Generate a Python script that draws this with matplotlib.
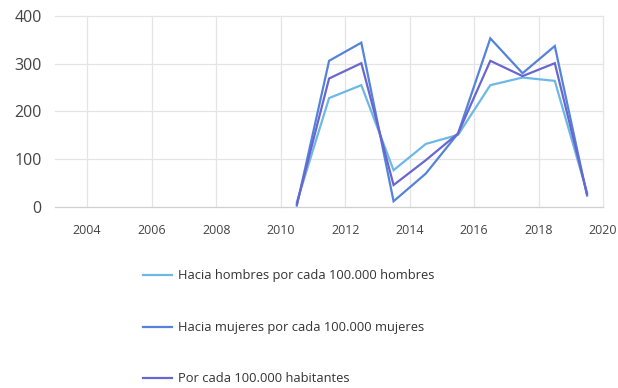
import matplotlib
matplotlib.use("Agg")
import matplotlib.pyplot as plt
from matplotlib.lines import Line2D

plt.rcParams['font.family'] = ['Open Sans', 'DejaVu Sans']

years = [2010, 2011, 2012, 2013, 2014, 2015, 2016, 2017, 2018, 2019]
hombres = [10, 228, 255, 77, 132, 151, 255, 271, 264, 30]
mujeres = [3, 306, 344, 12, 70, 154, 353, 280, 337, 24]
habitantes = [6, 269, 301, 46, 98, 154, 306, 274, 301, 27]
labels = ["Hacia hombres por cada 100.000 hombres",
          "Hacia mujeres por cada 100.000 mujeres",
          "Por cada 100.000 habitantes"]
colors = ["#6cb8e6", "#5483dc", "#6a66cf"]
xticks = [2004, 2006, 2008, 2010, 2012, 2014, 2016, 2018, 2020]
yticks = [0, 100, 200, 300, 400]

fig = plt.figure(figsize=(6.18, 3.88), dpi=100)
ax = fig.add_axes([0.089, 0.4665, 0.887, 0.4925])
xs = [y + 0.5 for y in years]
for vals, c in zip([hombres, mujeres, habitantes], colors):
    ax.plot(xs, vals, color=c, lw=1.6, solid_joinstyle='miter')

ax.set_xlim(2003, 2020)
ax.set_ylim(0, 400)
ax.set_xticks(xticks)
ax.set_yticks(yticks)
ax.grid(True, color="#e4e4e4", lw=0.9)
ax.set_axisbelow(True)
for gl in ax.get_xgridlines() + ax.get_ygridlines():
    gl.set_clip_on(False)
for s in ['top', 'right', 'left']:
    ax.spines[s].set_visible(False)
ax.spines['bottom'].set_color("#d0d0d0")
ax.tick_params(axis='x', length=0, labelsize=9, labelcolor="#444444", pad=12)
ax.tick_params(axis='y', length=0, labelsize=11.5, labelcolor="#444444", pad=9.5)

leg_y = [275, 327, 378]
for lab, c, yy in zip(labels, colors, leg_y):
    yf = 1 - yy / 388
    fig.add_artist(Line2D([143 / 618, 172 / 618], [yf, yf], color=c, lw=1.6))
    fig.text(178 / 618, yf, lab, fontsize=9.3, color="#333333", va='center', ha='left')

fig.savefig("out.png", dpi=100)
